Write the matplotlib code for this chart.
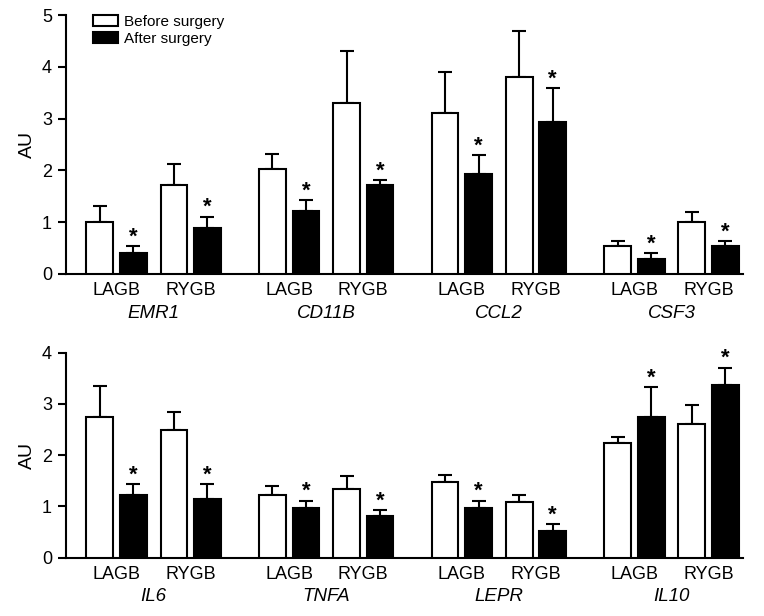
import numpy as np
import matplotlib
matplotlib.use('Agg')
import matplotlib.pyplot as plt
from matplotlib.patches import Patch

plt.rcParams['font.family'] = ['Liberation Sans', 'DejaVu Sans']

groups = ['LAGB', 'RYGB']

top_genes = ['EMR1', 'CD11B', 'CCL2', 'CSF3']
# per gene: LAGB, RYGB
top_before = [1.00, 1.72, 2.03, 3.31, 3.10, 3.80, 0.54, 1.00]
top_before_err = [0.32, 0.41, 0.29, 0.99, 0.79, 0.90, 0.10, 0.20]
top_after = [0.41, 0.89, 1.21, 1.72, 1.93, 2.93, 0.29, 0.54]
top_after_err = [0.13, 0.22, 0.21, 0.09, 0.37, 0.66, 0.11, 0.10]

bot_genes = ['IL6', 'TNFA', 'LEPR', 'IL10']
bot_before = [2.74, 2.49, 1.22, 1.35, 1.48, 1.09, 2.24, 2.61]
bot_before_err = [0.62, 0.36, 0.17, 0.25, 0.13, 0.14, 0.12, 0.36]
bot_after = [1.23, 1.15, 0.97, 0.82, 0.97, 0.52, 2.74, 3.37]
bot_after_err = [0.21, 0.28, 0.14, 0.11, 0.14, 0.14, 0.59, 0.34]

G = 5.15      # gene spacing
RY = 2.21     # offset of RYGB pair
W = 0.8
LW = 1.5


def panel(ax, genes, before, berr, after, aerr, ymax):
    xb, xa, centers, gcent = [], [], [], []
    for g in range(len(genes)):
        for off in [0, RY]:
            xb.append(g * G + off)
            xa.append(g * G + off + 1)
            centers.append(g * G + off + 0.5)
        gcent.append(g * G + (RY + 1) / 2)
    ax.bar(xb, before, W, color='white', edgecolor='black', linewidth=LW, zorder=3)
    ax.bar(xa, after, W, color='black', edgecolor='black', linewidth=LW, zorder=3)
    ax.errorbar(xb, before, yerr=[np.zeros(len(before)), berr], fmt='none',
                ecolor='black', elinewidth=LW, capsize=4.7, capthick=LW, zorder=2)
    ax.errorbar(xa, after, yerr=[np.zeros(len(after)), aerr], fmt='none',
                ecolor='black', elinewidth=LW, capsize=4.7, capthick=LW, zorder=2)
    for x, v, e in zip(xa, after, aerr):
        ax.annotate('*', (x, v + e), xytext=(0, -1), textcoords='offset points',
                    ha='center', va='bottom', fontsize=16, fontweight='bold')
    ax.set_xlim(-1.01, 19.19)
    ax.set_ylim(0, ymax)
    ax.set_yticks(range(ymax + 1))
    ax.set_xticks(centers)
    ax.set_xticklabels(groups * len(genes))
    ax.tick_params(axis='x', length=0, labelsize=13, pad=6)
    ax.tick_params(axis='y', length=6, width=LW, labelsize=13, pad=4)
    for s in ['top', 'right']:
        ax.spines[s].set_visible(False)
    for s in ['left', 'bottom']:
        ax.spines[s].set_linewidth(LW)
    for x, name in zip(gcent, genes):
        ax.annotate(name, (x, 0), xycoords=ax.get_xaxis_transform(),
                    xytext=(0, -22), textcoords='offset points',
                    ha='center', va='top', fontsize=13.5, style='italic')
    ax.set_ylabel('AU', fontsize=14, labelpad=4)


fig = plt.figure(figsize=(7.64, 6.16), dpi=100)
ax1 = fig.add_axes([66 / 764, 1 - 274 / 616, 677 / 764, 259 / 616])
ax2 = fig.add_axes([66 / 764, 1 - 557.7 / 616, 677 / 764, 205 / 616])

panel(ax1, top_genes, top_before, top_before_err, top_after, top_after_err, 5)
panel(ax2, bot_genes, bot_before, bot_before_err, bot_after, bot_after_err, 4)

handles = [Patch(facecolor='white', edgecolor='black', linewidth=LW),
           Patch(facecolor='black', edgecolor='black', linewidth=LW)]
ax1.legend(handles, ['Before surgery', 'After surgery'], loc='upper left',
           bbox_to_anchor=(0.04, 1.0), frameon=False, fontsize=11,
           handlelength=1.6, handleheight=0.75, labelspacing=0.2,
           handletextpad=0.4, borderpad=0, borderaxespad=0)

fig.savefig('out.png', dpi=100)
